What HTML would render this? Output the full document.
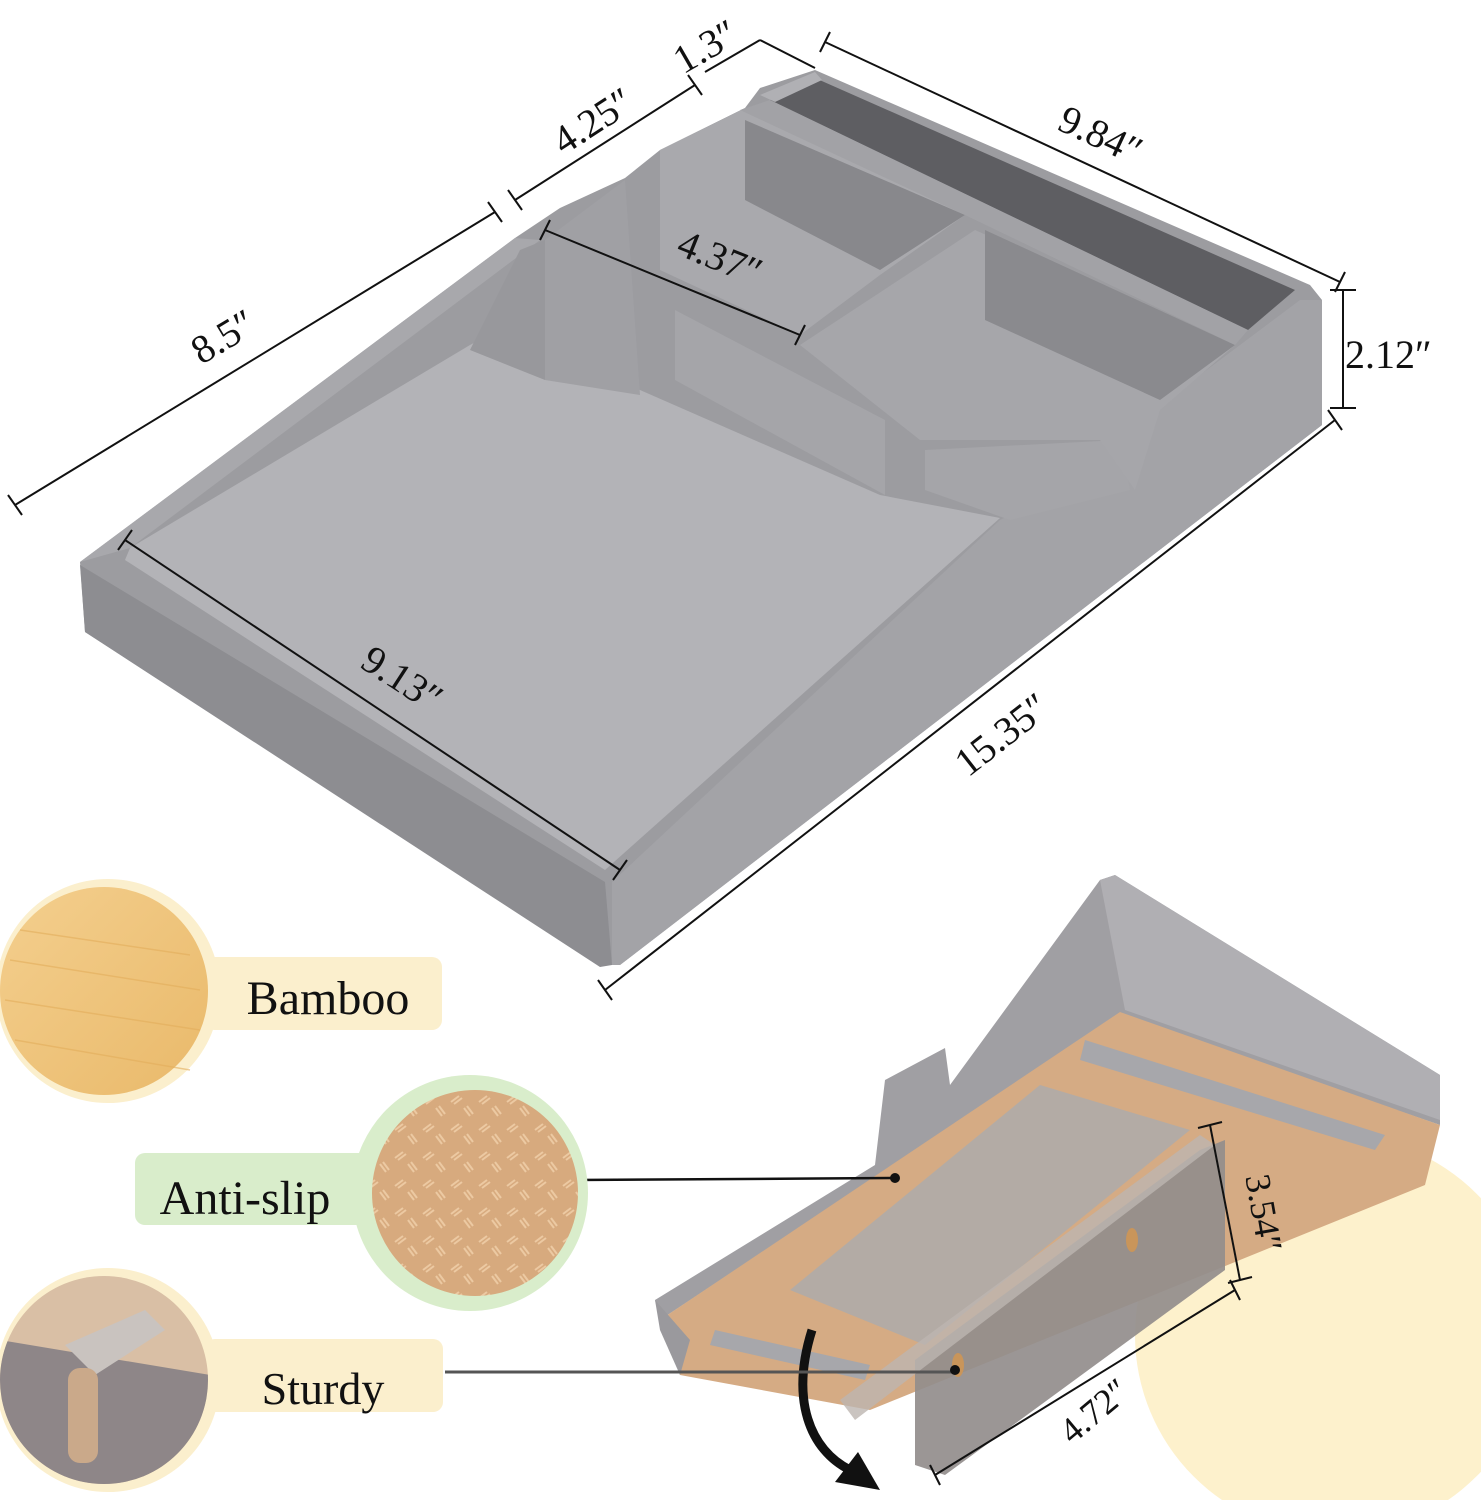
<!DOCTYPE html>
<html><head><meta charset="utf-8"><style>
html,body{margin:0;padding:0;background:#fff;width:1481px;height:1500px;overflow:hidden}
svg{display:block}
text{font-family:"Liberation Serif",serif;fill:#111}
</style></head><body>
<svg width="1481" height="1500" viewBox="0 0 1481 1500" xmlns="http://www.w3.org/2000/svg">
<defs>
<linearGradient id="bam" x1="0" y1="0" x2="1" y2="1"><stop offset="0" stop-color="#f4cf8e"/><stop offset="1" stop-color="#e9b96a"/></linearGradient>
<pattern id="cork" width="28" height="28" patternUnits="userSpaceOnUse"><rect width="28" height="28" fill="#d7aa7e"/><path d="M3 10l8-6M6 12l8-6M16 16l6 8M19 14l6 8" stroke="#ecc9a2" stroke-width="2"/></pattern>
</defs>

<!-- ===== Top tray ===== -->
<polygon points="80,562 515,238 560,208 625,178 660,150 745,108 760,88 815,70 1310,285 1322,300 1322,425 620,965 600,965 85,632" fill="#9c9ca0"/>
<polygon points="80,565 605,882 612,965 600,967 85,632" fill="#8d8d91"/>
<polygon points="612,882 1000,520 1040,500 1160,405 1300,300 1322,300 1322,425 620,965 612,965" fill="#a3a3a7"/>
<polygon points="80,562 515,238 540,240 130,548" fill="#a8a8ac"/>
<polygon points="130,548 470,345 520,318 640,390 880,495 1000,518 605,870 125,560" fill="#b3b3b7"/>
<polygon points="520,250 545,240 545,380 470,350" fill="#98989c"/>
<polygon points="545,240 625,180 640,395 545,380" fill="#a0a0a4"/>
<polygon points="675,310 885,420 885,495 675,380" fill="#a5a5a9"/>
<polygon points="925,450 1120,440 1130,490 1010,520 925,490" fill="#a5a5a9"/>
<polygon points="660,150 745,108 965,215 880,275 800,335 660,270" fill="#a9a9ad"/>
<polygon points="745,120 965,215 880,270 745,200" fill="#88888c"/>
<polygon points="800,345 975,230 1235,345 1160,410 1135,490 1100,440 920,440" fill="#a6a6aa"/>
<polygon points="985,230 1235,345 1160,400 985,320" fill="#8a8a8e"/>
<polygon points="770,100 815,78 1295,290 1248,330" fill="#5e5e62"/>
<polygon points="760,95 815,72 822,80 775,102" fill="#b0b0b4"/>
<polygon points="740,110 770,100 1248,330 1235,345 965,215" fill="#a2a2a6"/>

<g stroke="#111" stroke-width="2" fill="none">
<line x1="15" y1="505" x2="495" y2="212"/><line x1="8" y1="495" x2="22" y2="515"/><line x1="488" y1="202" x2="502" y2="222"/>
<line x1="515" y1="200" x2="695" y2="85"/><line x1="508" y1="190" x2="522" y2="210"/><line x1="688" y1="75" x2="702" y2="95"/>
<line x1="705" y1="72" x2="760" y2="40"/><line x1="760" y1="40" x2="815" y2="68"/>
<line x1="825" y1="42" x2="1340" y2="282"/><line x1="820" y1="52" x2="830" y2="32"/><line x1="1335" y1="292" x2="1345" y2="272"/>
<line x1="545" y1="230" x2="800" y2="335"/><line x1="550" y1="220" x2="540" y2="240"/><line x1="805" y1="325" x2="795" y2="345"/>
<line x1="1343" y1="290" x2="1343" y2="408"/><line x1="1330" y1="290" x2="1356" y2="290"/><line x1="1330" y1="408" x2="1356" y2="408"/>
<line x1="605" y1="990" x2="1335" y2="420"/><line x1="598" y1="980" x2="612" y2="1000"/><line x1="1328" y1="410" x2="1342" y2="430"/>
<line x1="125" y1="540" x2="620" y2="870"/><line x1="118" y1="550" x2="132" y2="530"/><line x1="613" y1="880" x2="627" y2="860"/>
</g>
<g font-size="40">
<text transform="translate(712,58) rotate(-30)" text-anchor="middle">1.3″</text>
<text transform="translate(600,132) rotate(-33)" text-anchor="middle">4.25″</text>
<text transform="translate(1095,147) rotate(25)" text-anchor="middle">9.84″</text>
<text transform="translate(230,348) rotate(-31)" text-anchor="middle">8.5″</text>
<text transform="translate(715,270) rotate(22)" text-anchor="middle">4.37″</text>
<text x="1345" y="368">2.12″</text>
<text transform="translate(1010,745) rotate(-38)" text-anchor="middle">15.35″</text>
<text transform="translate(395,690) rotate(33)" text-anchor="middle">9.13″</text>
</g>

<!-- ===== Bottom tray ===== -->
<circle cx="1335" cy="1335" r="200" fill="#fdf1cc"/>
<polygon points="655,1300 875,1165 885,1080 945,1048 950,1085 1100,880 1115,875 1440,1075 1440,1125 1120,1015 660,1320" fill="#a09fa3"/>
<polygon points="1100,880 1115,875 1440,1075 1440,1120 1125,1010" fill="#b0afb3"/>
<polygon points="660,1320 1120,1012 1440,1125 1425,1185 870,1410 680,1375" fill="#d5ab84"/>
<polygon points="655,1300 660,1330 680,1375 690,1340" fill="#9a999d"/>
<polygon points="1085,1040 1385,1135 1375,1150 1080,1060" fill="#a7a7ab"/>
<polygon points="715,1330 870,1365 865,1380 710,1345" fill="#a7a7ab"/>
<polygon points="790,1290 1040,1085 1190,1130 925,1345" fill="#b3aba5"/>
<polygon points="915,1360 1200,1150 1225,1140 1225,1270 945,1475 915,1465" fill="#938d8c" opacity="0.92"/>
<polygon points="840,1400 1200,1135 1215,1145 855,1420" fill="#bdb5b0" opacity="0.8"/>
<ellipse cx="958" cy="1365" rx="6" ry="12" fill="#c9955a"/>
<ellipse cx="1132" cy="1240" rx="6" ry="12" fill="#c9955a"/>
<path d="M812,1330 C790,1400 810,1450 850,1470" stroke="#111" stroke-width="9" fill="none"/>
<polygon points="835,1482 880,1490 858,1452" fill="#111"/>
<g stroke="#111" stroke-width="2" fill="none">
<line x1="1210" y1="1125" x2="1240" y2="1280"/><line x1="1198" y1="1128" x2="1222" y2="1122"/><line x1="1228" y1="1283" x2="1252" y2="1277"/>
<line x1="935" y1="1475" x2="1235" y2="1290"/><line x1="930" y1="1465" x2="940" y2="1485"/><line x1="1230" y1="1280" x2="1240" y2="1300"/>
</g>
<text font-size="36" transform="translate(1252,1215) rotate(80)" text-anchor="middle">3.54″</text>
<text font-size="36" transform="translate(1102,1420) rotate(-40)" text-anchor="middle">4.72″</text>

<line x1="575" y1="1180" x2="895" y2="1178" stroke="#111" stroke-width="2.5"/>
<circle cx="895" cy="1178" r="5" fill="#111"/>
<line x1="445" y1="1372" x2="955" y2="1372" stroke="#555" stroke-width="3"/>
<circle cx="955" cy="1370" r="5" fill="#111"/>

<!-- ===== Left feature callouts ===== -->
<circle cx="108" cy="991" r="112" fill="#fbefcd"/>
<rect x="205" y="957" width="237" height="73" rx="10" fill="#fbefcd"/>
<circle cx="104" cy="991" r="104" fill="url(#bam)"/>
<g stroke="#e3ae5c" stroke-width="1.5" opacity="0.6"><line x1="10" y1="960" x2="200" y2="990"/><line x1="5" y1="1000" x2="200" y2="1030"/><line x1="20" y1="930" x2="190" y2="955"/><line x1="15" y1="1040" x2="190" y2="1070"/></g>
<text x="328" y="1014" font-size="48" text-anchor="middle">Bamboo</text>

<circle cx="470" cy="1193" r="118" fill="#d9edcb"/>
<rect x="135" y="1153" width="260" height="72" rx="10" fill="#d9edcb"/>
<circle cx="475" cy="1193" r="103" fill="url(#cork)"/>
<text x="245" y="1214" font-size="48" text-anchor="middle">Anti-slip</text>

<circle cx="108" cy="1380" r="112" fill="#fbefcd"/>
<rect x="205" y="1339" width="238" height="73" rx="10" fill="#fbefcd"/>
<clipPath id="cs"><circle cx="104" cy="1380" r="104"/></clipPath>
<g clip-path="url(#cs)">
<rect x="0" y="1276" width="210" height="210" fill="#d9bfa5"/>
<polygon points="0,1340 210,1375 210,1486 0,1486" fill="#8e8688"/>
<polygon points="65,1345 145,1310 165,1330 95,1375" fill="#c9c3bf"/>
<rect x="68" y="1368" width="30" height="95" rx="12" fill="#caa98a"/>
</g>
<text x="323" y="1404" font-size="46" text-anchor="middle">Sturdy</text>
</svg>
</body></html>
